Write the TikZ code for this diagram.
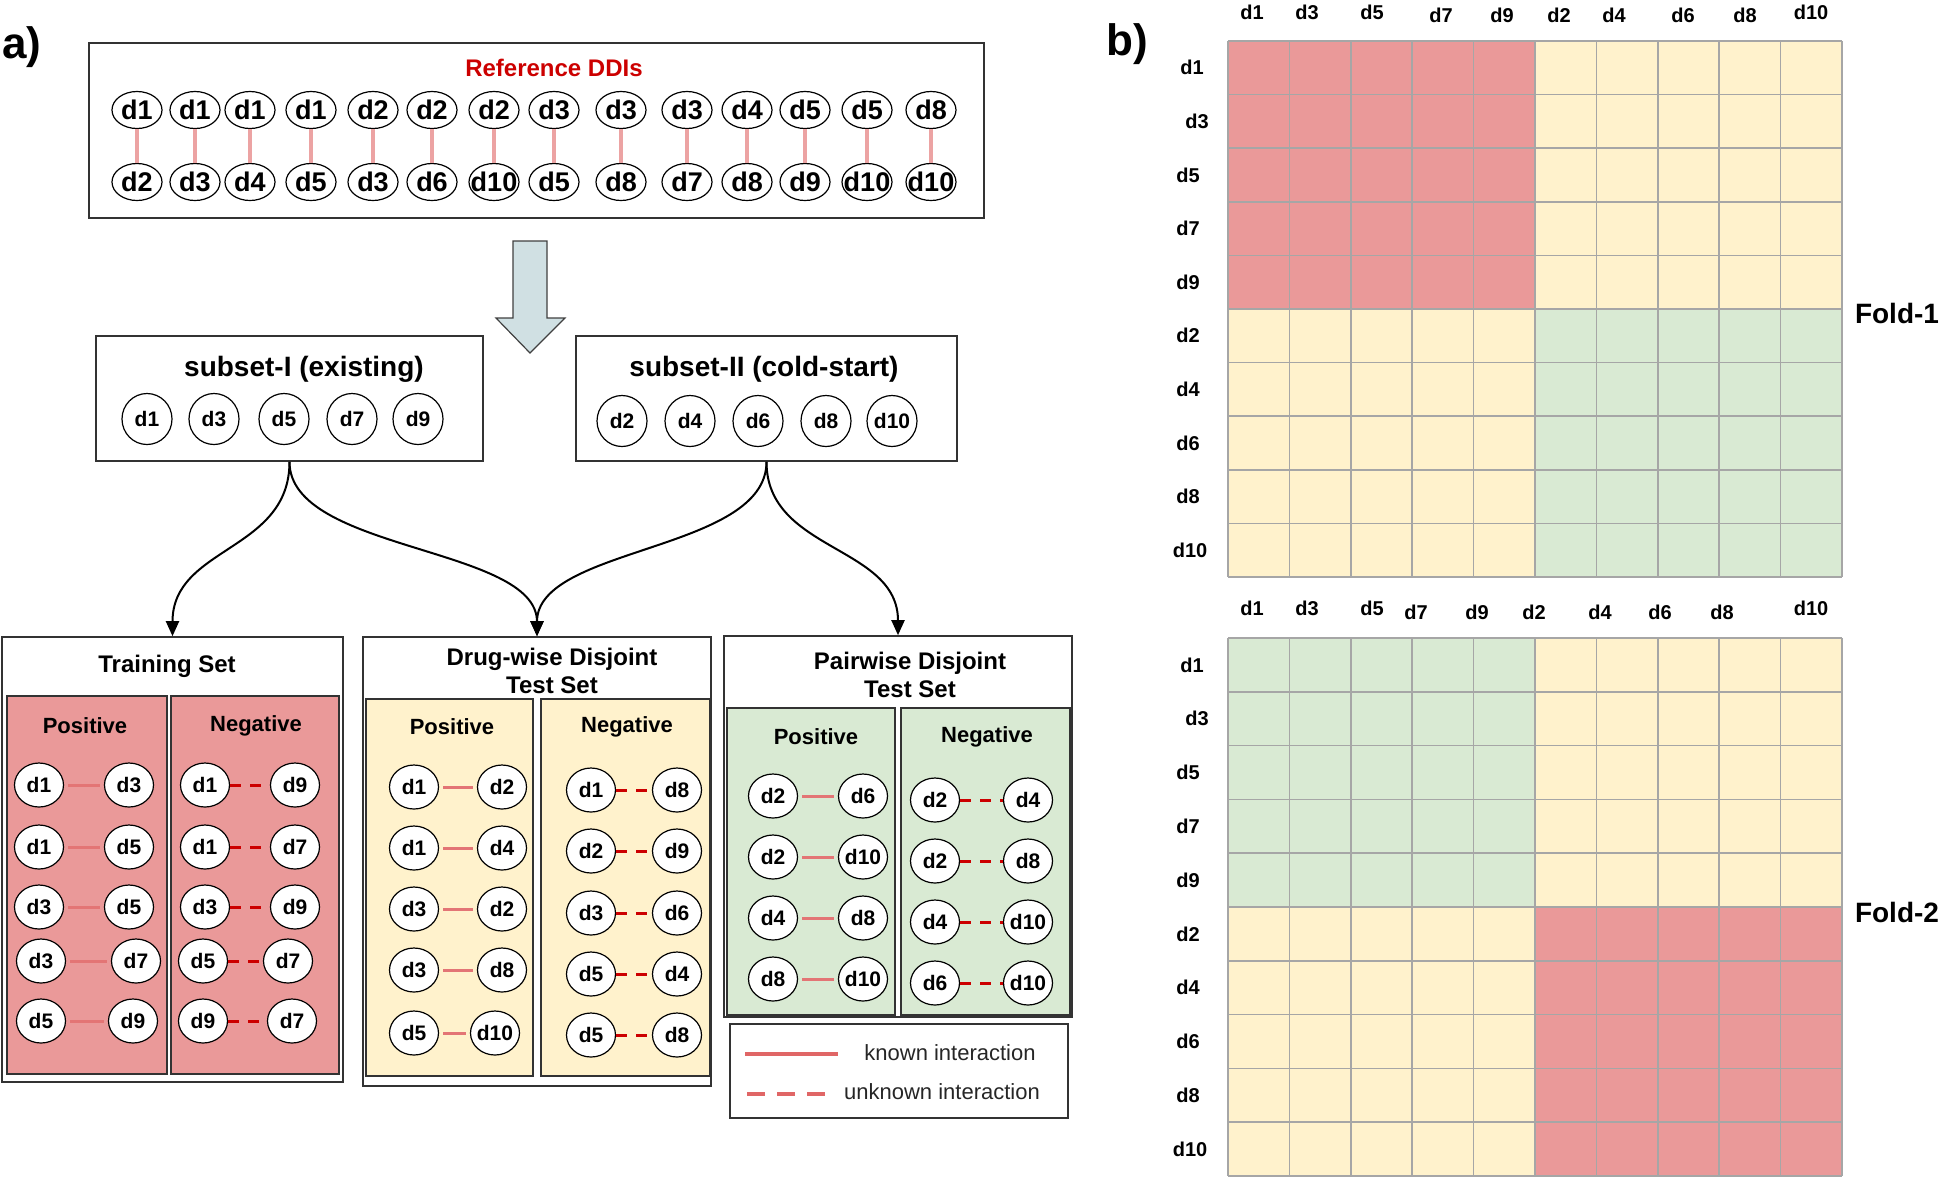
\documentclass[tikz,border=0pt]{standalone}
\usepackage{fontspec}
\setmainfont{Liberation Sans}
\usepackage{tikz}
\usetikzlibrary{arrows.meta, positioning, shapes.geometric, fit, calc}
\definecolor{ddired}{HTML}{EA9999}
\definecolor{ddiyellow}{HTML}{FFF2CC}
\definecolor{ddigreen}{HTML}{D9EAD3}
\definecolor{ddicyan}{HTML}{D0E0E3}
\definecolor{ddilink}{HTML}{E06666}
\definecolor{ddidash}{HTML}{CC0000}
\definecolor{ddigrid}{HTML}{A6A6A6}

\begin{document}
\begin{tikzpicture}[
    x=0.5pt, y=-0.5pt,
    frame/.style={draw=black!80, line width=0.8pt, inner sep=0pt},
    panel/.style={draw=black!80, line width=0.8pt, inner sep=0pt},
    drug/.style={draw=black, ellipse, line width=0.6pt, fill=white, inner xsep=-2pt, inner ysep=0pt, minimum width=24.5pt, minimum height=22pt, font=\fontsize{10.5}{12}\selectfont\bfseries},
    refdrug/.style={drug, inner xsep=-4pt, minimum width=25pt, minimum height=18.5pt, font=\fontsize{13.5}{15}\selectfont\bfseries},
    subdrug/.style={drug, minimum width=25pt, minimum height=25.5pt},
    title/.style={font=\fontsize{12}{14}\selectfont\bfseries, align=center},
    head/.style={font=\fontsize{11}{13}\selectfont\bfseries},
    axis/.style={font=\fontsize{10}{12}\selectfont\bfseries},
    known/.style={draw=ddilink!90, line width=1.5pt},
    unknown/.style={draw=ddidash, line width=1.5pt, dash pattern=on 5.5pt off 4.5pt},
    reflink/.style={draw=ddilink!60, line width=2.2pt},
    split/.style={-{Triangle[length=7.5pt, width=6.5pt]}, line width=1pt},
    cell/.style={draw=ddigrid, line width=0.8pt},
]
\useasboundingbox (0,0) rectangle (1943,1179);

% Panel letters
\node[font=\fontsize{22}{24}\selectfont\bfseries] (lbla) at (22,47) {a)};
\node[font=\fontsize{22}{24}\selectfont\bfseries] (lblb) at (1127,44) {b)};

% Reference DDIs
\node[frame, fit={(89,43) (984,218)}] (ref) {};
\node[font=\fontsize{12}{14}\selectfont\bfseries, text=ddidash] (reftitle) at (554,68) {Reference DDIs};
\foreach \i/\x/\a/\b in {1/137/d1/d2, 2/195/d1/d3, 3/250/d1/d4, 4/311/d1/d5, 5/373/d2/d3, 6/432/d2/d6, 7/494/d2/d10,
    8/554/d3/d5, 9/621/d3/d8, 10/687/d3/d7, 11/747/d4/d8, 12/805/d5/d9, 13/867/d5/d10, 14/931/d8/d10}{
  \node[refdrug] (rt\i) at (\x,110) {\a};
  \node[refdrug] (rb\i) at (\x,182) {\b};
  \draw[reflink] (rt\i) -- (rb\i);
}

% Split arrow
\filldraw[fill=ddicyan, draw=black!75, line width=0.6pt] (513,241) -- (547,241) -- (547,318) -- (565,318)
    -- (530,353) -- (496,318) -- (513,318) -- cycle;

% Subsets
\node[frame, fit={(96,336) (483,461)}] (sub1) {};
\node[font=\fontsize{14}{16}\selectfont\bfseries] (sub1title) at (304,369) {subset-I (existing)};
\foreach \t/\x in {d1/147, d3/214, d5/284, d7/352, d9/418}
  \node[subdrug] (s1\t) at (\x,419) {\t};

\node[frame, fit={(576,336) (957,461)}] (sub2) {};
\node[font=\fontsize{14}{16}\selectfont\bfseries] (sub2title) at (764,369) {subset-II (cold-start)};
\foreach \t/\x in {d2/622, d4/690, d6/758, d8/826, d10/892}
  \node[subdrug] (s2\t) at (\x,421) {\t};

% Result sets
\node[frame, fit={(2,637) (343,1082)}] (train) {};
\node[title] (traintitle) at (167,666) {Training Set};
\node[panel, fill=ddired, fit={(7,696) (167,1074)}] (tpos) {};
\node[panel, fill=ddired, fit={(171,696) (339,1074)}] (tneg) {};
\node[head] (tposhead) at (85,726) {Positive};
\node[head] (tneghead) at (256,726) {Negative};

\node[frame, fit={(363,637) (711,1086)}] (dwise) {};
\node[title] (dwisetitle) at (552,671) {Drug-wise Disjoint\\Test Set};
\node[panel, fill=ddiyellow, fit={(366,699) (533,1076)}] (dpos) {};
\node[panel, fill=ddiyellow, fit={(541,699) (710,1076)}] (dneg) {};
\node[head] (dposhead) at (452,727) {Positive};
\node[head] (dneghead) at (627,727) {Negative};

\node[frame, fit={(724,636) (1072,1017)}] (pwise) {};
\node[title] (pwisetitle) at (910,675) {Pairwise Disjoint\\Test Set};
\node[panel, fill=ddigreen, fit={(727,708) (895,1015)}] (ppos) {};
\node[panel, fill=ddigreen, fit={(901,708) (1070,1015)}] (pneg) {};
\node[head] (pposhead) at (816,737) {Positive};
\node[head] (pneghead) at (987,737) {Negative};

% Pairs
\foreach \i/\y/\lx/\rx/\a/\b in {1/785/39/129/d1/d3, 2/847/39/129/d1/d5, 3/907/39/129/d3/d5, 4/961/41/136/d3/d7, 5/1021/41/133/d5/d9}{
  \node[drug] (tpa\i) at (\lx,\y) {\a};
  \node[drug] (tpb\i) at (\rx,\y) {\b};
  \draw[known, shorten <=2pt, shorten >=2pt] (tpa\i) -- (tpb\i);
}
\foreach \i/\y/\lx/\rx/\a/\b in {1/785/205/295/d1/d9, 2/847/205/295/d1/d7, 3/907/205/295/d3/d9, 4/961/203/288/d5/d7, 5/1021/203/292/d9/d7}{
  \node[drug] (tna\i) at (\lx,\y) {\a};
  \node[drug] (tnb\i) at (\rx,\y) {\b};
  \draw[unknown] (tna\i) -- (tnb\i);
}
\foreach \i/\y/\lx/\rx/\a/\b in {1/787/414/502/d1/d2, 2/848/414/502/d1/d4, 3/909/414/502/d3/d2, 4/970/414/502/d3/d8, 5/1033/414/495/d5/d10}{
  \node[drug] (dpa\i) at (\lx,\y) {\a};
  \node[drug] (dpb\i) at (\rx,\y) {\b};
  \draw[known, shorten <=2pt, shorten >=2pt] (dpa\i) -- (dpb\i);
}
\foreach \i/\y/\lx/\rx/\a/\b in {1/790/591/677/d1/d8, 2/851/591/677/d2/d9, 3/913/591/677/d3/d6, 4/974/591/677/d5/d4, 5/1035/591/677/d5/d8}{
  \node[drug] (dna\i) at (\lx,\y) {\a};
  \node[drug] (dnb\i) at (\rx,\y) {\b};
  \draw[unknown] (dna\i) -- (dnb\i);
}
\foreach \i/\y/\a/\b in {1/796/d2/d6, 2/857/d2/d10, 3/918/d4/d8, 4/979/d8/d10}{
  \node[drug] (ppa\i) at (773,\y) {\a};
  \node[drug] (ppb\i) at (863,\y) {\b};
  \draw[known, shorten <=2pt, shorten >=2pt] (ppa\i) -- (ppb\i);
}
\foreach \i/\y/\a/\b in {1/800/d2/d4, 2/861/d2/d8, 3/922/d4/d10, 4/983/d6/d10}{
  \node[drug] (pna\i) at (935,\y) {\a};
  \node[drug] (pnb\i) at (1028,\y) {\b};
  \draw[unknown] (pna\i) -- (pnb\i);
}

% Split into sets
\draw[split] (sub1.south) .. controls +(0,90) and +(0,-90) .. (train.north);
\draw[split] (sub1.south) .. controls +(0,90) and +(0,-90) .. (dwise.north);
\draw[split] (sub2.south) .. controls +(0,90) and +(0,-90) .. (dwise.north);
\draw[split] (sub2.south) .. controls +(0,90) and +(0,-90) .. (pwise.north);

% Legend
\node[frame, fit={(730,1024) (1068,1118)}] (legend) {};
\coordinate (ks) at (745,1054);
\coordinate (ke) at (838,1054);
\coordinate (us) at (747,1094);
\coordinate (ue) at (830,1094);
\draw[draw=ddilink, line width=2pt] (ks) -- (ke);
\draw[draw=ddilink, line width=2pt, dash pattern=on 9pt off 6pt] (us) -- (ue);
\node[font=\fontsize{11}{13}\selectfont, text=black!85] (knowntxt) at (950,1053) {known interaction};
\node[font=\fontsize{11}{13}\selectfont, text=black!85] (unknowntxt) at (942,1092) {unknown interaction};

% Fold-1 matrix
\fill[ddired] (1228,41) rectangle (1535,309);
\fill[ddiyellow] (1535,41) rectangle (1842,309);
\fill[ddiyellow] (1228,309) rectangle (1535,577);
\fill[ddigreen] (1535,309) rectangle (1842,577);
\foreach \k in {0,...,10}{
  \draw[cell] ({1228+61.4*\k},41) -- ({1228+61.4*\k},577);
  \draw[cell] (1228,{41+53.6*\k}) -- (1842,{41+53.6*\k});
}
\foreach \t/\x/\y in {d1/1252/12, d3/1307/12, d5/1372/12, d7/1441/15, d9/1502/15, d2/1559/15, d4/1614/15, d6/1683/15, d8/1745/15, d10/1811/12}
  \node[axis] (fa\t) at (\x,\y) {\t};
\foreach \t/\x [count=\k] in {d1/1192, d3/1197, d5/1188, d7/1188, d9/1188, d2/1188, d4/1188, d6/1188, d8/1188, d10/1190}
  \node[axis] (ra\t) at (\x,{41+53.6*(\k-0.5)}) {\t};
\node[font=\fontsize{14}{16}\selectfont\bfseries] (fold1) at (1897,313) {Fold-1};

% Fold-2 matrix
\fill[ddigreen] (1228,638) rectangle (1535,907);
\fill[ddiyellow] (1535,638) rectangle (1842,907);
\fill[ddiyellow] (1228,907) rectangle (1535,1176);
\fill[ddired] (1535,907) rectangle (1842,1176);
\foreach \k in {0,...,10}{
  \draw[cell] ({1228+61.4*\k},638) -- ({1228+61.4*\k},1176);
  \draw[cell] (1228,{638+53.8*\k}) -- (1842,{638+53.8*\k});
}
\foreach \t/\x/\y in {d1/1252/608, d3/1307/608, d5/1372/608, d7/1416/612, d9/1477/612, d2/1534/612, d4/1600/612, d6/1660/612, d8/1722/612, d10/1811/608}
  \node[axis] (fb\t) at (\x,\y) {\t};
\foreach \t/\x [count=\k] in {d1/1192, d3/1197, d5/1188, d7/1188, d9/1188, d2/1188, d4/1188, d6/1188, d8/1188, d10/1190}
  \node[axis] (rb\t) at (\x,{638+53.8*(\k-0.5)}) {\t};
\node[font=\fontsize{14}{16}\selectfont\bfseries] (fold2) at (1897,912) {Fold-2};

\end{tikzpicture}
\end{document}
